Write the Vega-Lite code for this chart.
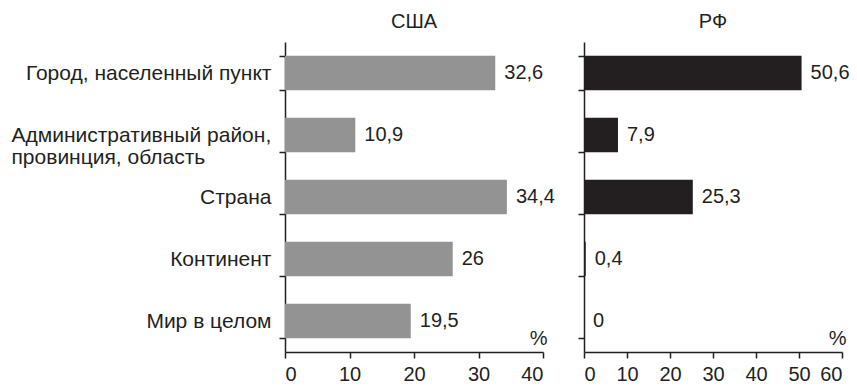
{
  "$schema": "https://vega.github.io/schema/vega-lite/v6.json",
  "padding": {"left": 11, "top": 12, "right": 5, "bottom": 5},
  "background": "white",
  "config": {
    "font": "Liberation Sans",
    "view": {"stroke": null},
    "locale": {"number": {"decimal": ",", "thousands": " ", "grouping": [3], "currency": ["", ""]}},
    "axis": {
      "domainColor": "#231f20", "tickColor": "#231f20", "domainWidth": 1.5, "tickWidth": 1.5,
      "labelColor": "#231f20", "labelFontSize": 20, "labelFont": "Liberation Sans",
      "grid": false, "tickSize": 6, "labelLimit": 0
    },
    "title": {"fontSize": 20, "fontWeight": "normal", "color": "#231f20", "font": "Liberation Sans", "offset": 10},
    "concat": {"spacing": 22}
  },
  "data": {"values": [
    {"country": "США", "cat": "Город, населенный пункт", "value": 32.6},
    {"country": "США", "cat": "Административный район,|провинция, область", "value": 10.9},
    {"country": "США", "cat": "Страна", "value": 34.4},
    {"country": "США", "cat": "Континент", "value": 26},
    {"country": "США", "cat": "Мир в целом", "value": 19.5},
    {"country": "РФ", "cat": "Город, населенный пункт", "value": 50.6},
    {"country": "РФ", "cat": "Административный район,|провинция, область", "value": 7.9},
    {"country": "РФ", "cat": "Страна", "value": 25.3},
    {"country": "РФ", "cat": "Континент", "value": 0.4},
    {"country": "РФ", "cat": "Мир в целом", "value": 0}
  ]},
  "hconcat": [
    {
      "title": "США",
      "width": 258, "height": 310,
      "transform": [{"filter": "datum.country == 'США'"}],
      "encoding": {
        "y": {"field": "cat", "type": "nominal", "sort": null,
          "scale": {"paddingInner": 0.44, "paddingOuter": 0.22},
          "axis": {"title": null, "tickBand": "extent",
            "labelFontSize": {"condition": {"test": "!isValid(datum.value)", "value": 0}, "value": 21},
            "labelPadding": {"condition": {"test": "isValid(datum.value) && indexof(datum.value, '|') >= 0", "value": 268}, "value": 8},
            "labelAlign": {"condition": {"test": "isValid(datum.value) && indexof(datum.value, '|') >= 0", "value": "left"}, "value": "right"},
            "labelExpr": "isValid(datum.value) ? split(datum.value, '|') : ''", "labelLineHeight": 22}},
        "x": {"field": "value", "type": "quantitative", "scale": {"domain": [0, 40], "nice": false},
          "axis": {"values": [0, 10, 20, 30, 40], "title": "%", "titleFontSize": 20, "titleFontWeight": "normal", "titleColor": "#231f20",
            "titleAnchor": "end", "titleAlign": "right", "titleX": 262, "titleY": -4, "titleBaseline": "bottom", "labelPadding": 6}}
      },
      "layer": [
        {"mark": {"type": "bar", "color": "#939393"}},
        {"mark": {"type": "text", "align": "left", "baseline": "middle", "dx": 9, "fontSize": 20, "color": "#231f20"},
          "encoding": {"text": {"field": "value", "type": "quantitative", "format": "~g"}}}
      ]
    },
    {
      "title": "РФ",
      "width": 258, "height": 310,
      "transform": [{"filter": "datum.country == 'РФ'"}],
      "encoding": {
        "y": {"field": "cat", "type": "nominal", "sort": null,
          "scale": {"paddingInner": 0.44, "paddingOuter": 0.22},
          "axis": {"title": null, "tickBand": "extent", "labels": false}},
        "x": {"field": "value", "type": "quantitative", "scale": {"domain": [0, 60], "nice": false},
          "axis": {"values": [0, 10, 20, 30, 40, 50, 60], "title": "%", "titleFontSize": 20, "titleFontWeight": "normal", "titleColor": "#231f20",
            "titleAnchor": "end", "titleAlign": "right", "titleX": 262, "titleY": -4, "titleBaseline": "bottom", "labelPadding": 6}}
      },
      "layer": [
        {"mark": {"type": "bar", "color": "#231f20"}},
        {"mark": {"type": "text", "align": "left", "baseline": "middle", "dx": 9, "fontSize": 20, "color": "#231f20"},
          "encoding": {"text": {"field": "value", "type": "quantitative", "format": "~g"}}}
      ]
    }
  ],
  "resolve": {"scale": {"x": "independent", "y": "independent"}}
}
